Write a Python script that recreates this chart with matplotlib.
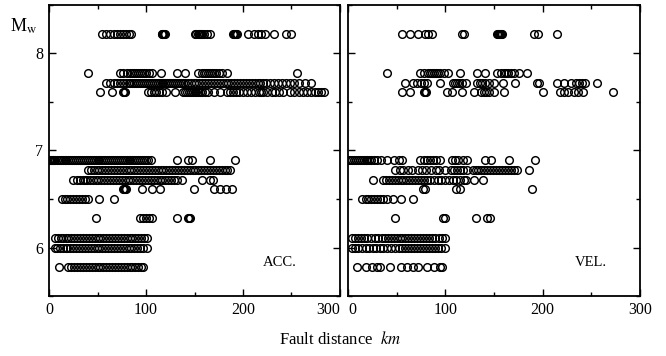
import matplotlib
matplotlib.use("Agg")
import matplotlib.pyplot as plt
from matplotlib.ticker import MultipleLocator

plt.rcParams['font.family'] = ['Liberation Serif', 'DejaVu Serif']
plt.rcParams['mathtext.fontset'] = 'stix'

# === Data: fault distance (km) per magnitude row ===
# ACC. panel
acc_82 = [55, 59, 63, 67, 70, 73, 76, 79, 82, 85, 116, 117, 118, 119, 120,
          150, 152, 154, 155, 156, 157, 158, 160, 163, 166, 190, 191, 192, 193, 194,
          205, 211, 215, 219, 223, 232, 244, 249]
acc_78 = [40, 73, 76, 80, 83, 86, 88, 90, 92, 94, 96, 98, 100, 103, 106, 115, 132, 140,
          154, 158, 160, 162, 164, 166, 168, 170, 172, 175, 178, 183, 256]
acc_77 = [59, 63, 67, 70, 73, 76, 79, 82, 84, 86, 88, 90, 92, 94, 96, 98, 100, 102, 104,
          106, 108, 110, 112, 114, 116, 118, 120, 122, 124, 126, 128, 130, 132, 134, 136,
          138, 140, 143, 146, 149, 152, 155, 158, 161, 164, 167, 170, 173, 176, 179, 182,
          185, 188, 191, 194, 197, 200, 203, 206, 209, 212, 215, 218, 221, 224, 228, 232,
          236, 240, 244, 248, 253, 258, 264, 270]
acc_76 = [53, 65, 76, 77, 78, 102, 105, 108, 110, 113, 117, 121, 130, 138, 140, 142, 144,
          146, 148, 150, 152, 154, 156, 158, 161, 164, 170, 176, 183, 187, 190, 193, 196,
          200, 204, 208, 212, 217, 219, 221, 225, 230, 233, 237, 241, 248, 253, 258, 262,
          266, 270, 274, 277, 280, 283]
acc_69 = [0, 1, 2, 3, 4, 5, 6, 8, 10, 12, 14, 16, 18, 20, 22, 24, 26, 28, 30, 32, 34, 36,
          38, 40, 42, 44, 46, 48, 50, 52, 54, 56, 58, 60, 62, 64, 66, 68, 70, 72, 74, 76,
          78, 80, 82, 84, 86, 88, 90, 92, 94, 96, 98, 100, 102, 105, 132, 143, 147, 166, 192]
acc_68 = [40, 43, 46, 49, 52, 55, 58, 61, 64, 67, 70, 73, 76, 79, 82, 85, 88, 91, 94, 97,
          100, 103, 106, 109, 112, 115, 118, 121, 124, 127, 130, 133, 136, 139, 142, 145,
          148, 151, 154, 157, 160, 163, 166, 169, 172, 175, 178, 181, 184, 187]
acc_67 = [25, 29, 32, 35, 37, 39, 42, 45, 48, 51, 54, 57, 60, 63, 66, 69, 72, 75, 78, 81,
          84, 87, 90, 93, 96, 99, 102, 105, 108, 111, 114, 117, 120, 123, 126, 129, 132,
          137, 158, 166, 169]
acc_66 = [76, 77, 78, 79, 96, 106, 114, 149, 170, 176, 182, 189]
acc_65 = [13, 16, 19, 22, 25, 28, 31, 34, 37, 40, 52, 67]
acc_63 = [48, 94, 97, 100, 103, 106, 132, 143, 144, 145]
acc_61 = [6, 9, 12, 14, 17, 20, 23, 26, 29, 32, 35, 38, 41, 44, 47, 50, 53, 56, 59, 62,
          65, 68, 71, 74, 77, 80, 83, 86, 89, 92, 95, 98, 101]
acc_60 = [6, 8, 11, 14, 17, 19, 22, 25, 28, 31, 34, 37, 40, 43, 46, 49, 52, 55, 58, 61,
          64, 67, 70, 73, 76, 79, 82, 85, 88, 91, 94, 97, 101]
acc_58 = [10, 20, 23, 26, 29, 32, 35, 38, 41, 44, 47, 50, 53, 56, 59, 62, 65, 68, 71, 74,
          77, 80, 83, 86, 89, 92, 95, 97]

# VEL. panel
vel_82 = [56, 64, 72, 79, 82, 86, 117, 119, 153, 154, 155, 156, 157, 158, 191, 195, 215]
vel_78 = [40, 74, 78, 82, 84, 86, 88, 90, 92, 95, 99, 103, 115, 133, 141, 153, 157, 160,
          162, 164, 167, 171, 176, 184]
vel_77 = [59, 67, 71, 75, 78, 81, 95, 108, 110, 112, 114, 117, 121, 133, 136, 138, 141,
          145, 150, 159, 172, 194, 196, 215, 222, 229, 234, 237, 240, 243, 256]
vel_76 = [55, 64, 78, 79, 80, 102, 107, 117, 129, 137, 140, 142, 145, 150, 160, 200, 218,
          222, 226, 232, 236, 241, 272]
vel_69 = [0, 2, 4, 6, 8, 10, 12, 14, 16, 18, 20, 22, 24, 27, 30, 34, 40, 47, 52, 56, 74,
          78, 81, 84, 87, 90, 95, 107, 110, 113, 118, 122, 141, 147, 165, 192]
vel_68 = [48, 53, 57, 62, 66, 72, 76, 80, 85, 90, 93, 100, 106, 109, 112, 115, 118, 122,
          128, 131, 134, 137, 140, 143, 146, 149, 152, 155, 158, 161, 164, 167, 171, 174, 186]
vel_67 = [26, 36, 39, 42, 45, 48, 51, 54, 57, 60, 63, 66, 69, 72, 75, 78, 81, 84, 88, 92,
          96, 100, 104, 108, 111, 115, 119, 121, 129, 139]
vel_66 = [77, 79, 111, 115, 189]
vel_65 = [14, 18, 21, 24, 27, 30, 33, 36, 40, 46, 54, 67]
vel_63 = [48, 98, 100, 132, 143, 146]
vel_61 = [4, 7, 10, 13, 16, 20, 24, 28, 31, 35, 38, 41, 44, 47, 50, 53, 56, 59, 62, 65,
          68, 71, 74, 77, 80, 83, 86, 89, 93, 97, 100]
vel_60 = [4, 7, 10, 14, 18, 22, 26, 29, 33, 36, 40, 44, 48, 52, 56, 59, 62, 65, 68, 71,
          74, 77, 80, 83, 86, 89, 92, 96, 100]
vel_58 = [9, 18, 25, 30, 33, 43, 54, 61, 67, 72, 81, 88, 95, 97]

magnitudes = [8.2, 7.8, 7.7, 7.6, 6.9, 6.8, 6.7, 6.6, 6.5, 6.3, 6.1, 6.0, 5.8]
acc_rows = [acc_82, acc_78, acc_77, acc_76, acc_69, acc_68, acc_67, acc_66, acc_65,
            acc_63, acc_61, acc_60, acc_58]
vel_rows = [vel_82, vel_78, vel_77, vel_76, vel_69, vel_68, vel_67, vel_66, vel_65,
            vel_63, vel_61, vel_60, vel_58]

x_ticks = [0, 100, 200, 300]
y_ticks = [6, 7, 8]

fig = plt.figure(figsize=(6.66, 3.56), dpi=100)
ax_acc = fig.add_axes([0.0736, 0.1685, 0.4369, 0.8175])
ax_vel = fig.add_axes([0.5225, 0.1685, 0.4385, 0.8175])

for ax, rows, tag in [(ax_acc, acc_rows, "ACC."), (ax_vel, vel_rows, "VEL.")]:
    for mag, xs in zip(magnitudes, rows):
        ax.plot(xs, [mag] * len(xs), linestyle='none', marker='o', markersize=5.5,
                markerfacecolor='none', markeredgecolor='black', markeredgewidth=1.05)
    ax.set_xlim(0, 300)
    ax.set_ylim(5.5, 8.5)
    ax.set_xticks(x_ticks, labels=[str(t) for t in x_ticks])
    ax.set_yticks(y_ticks, labels=[str(t) for t in y_ticks])
    ax.xaxis.set_minor_locator(MultipleLocator(50))
    ax.yaxis.set_minor_locator(MultipleLocator(0.5))
    ax.tick_params(which='both', direction='in', top=True, right=True, labelsize=11.5,
                   width=1.0, pad=4)
    ax.tick_params(which='major', length=5)
    ax.tick_params(which='minor', length=3)
    for sp in ax.spines.values():
        sp.set_linewidth(1.3)
    ax.text(250 if tag == "VEL." else 238, 5.85, tag, fontsize=10.5, ha='center', va='center')

ax_vel.tick_params(labelleft=False)

# keep the "300" and "0" labels at the panel join apart
ax_acc.get_xticklabels()[-1].set_ha('right')
ax_vel.get_xticklabels()[0].set_ha('left')

fig.text(0.015, 0.925, r'M$_{\rm w}$', fontsize=13, ha='left', va='center')
fig.text(0.51, 0.045, r'Fault distance  $\it{km}$', fontsize=12, ha='center', va='center')

fig.savefig("out.png", dpi=100)
